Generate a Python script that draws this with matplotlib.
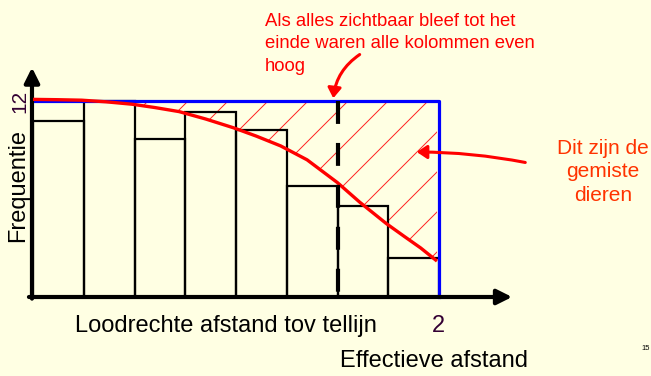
import numpy as np
import matplotlib
matplotlib.use('Agg')
import matplotlib.pyplot as plt
from matplotlib.patches import FancyArrowPatch

plt.rcParams['font.family'] = ['Liberation Sans', 'DejaVu Sans']
plt.rcParams['lines.scale_dashes'] = False

W, H = 651, 376
bg = '#FFFFE3'

# bins of the histogram (perpendicular distance) and observed frequencies
bin_edges = [0.0, 0.25, 0.5, 0.75, 1.0, 1.25, 1.5, 1.75]
bin_width = 0.25
freq = [10.8, 12.0, 9.7, 11.3, 10.2, 6.8, 5.6, 2.4]
max_freq = 12
eff_dist = 1.5
x_max = 2

# detection curve
curve_x = [0.0, 0.12, 0.24, 0.36, 0.49, 0.60, 0.72, 0.85, 0.99, 1.10, 1.22, 1.35,
           1.50, 1.61, 1.74, 1.83, 1.91, 1.99]
curve_y = [12.1, 12.08, 12.05, 11.95, 11.8, 11.6, 11.35, 10.9, 10.35, 9.85, 9.25, 8.4,
           7.0, 5.8, 4.5, 3.7, 3.0, 2.2]

title_lines = 'Als alles zichtbaar bleef tot het\neinde waren alle kolommen even\nhoog'
side_lines = 'Dit zijn de\ngemiste\ndieren'


def fig_xy(px, py):
    return px / W, 1 - py / H


fig = plt.figure(figsize=(W / 100, H / 100), dpi=100, facecolor=bg)
ax = fig.add_axes([33 / W, (H - 297) / H, 406 / W, 196 / H])
ax.set_facecolor('none')
ax.set_xlim(0, x_max)
ax.set_ylim(0, max_freq)
ax.axis('off')

# hatched area between curve and the full height
poly = ax.fill_between(curve_x, curve_y, max_freq, facecolor='none', edgecolor='none')
clip = poly.get_paths()[0]
for c in np.arange(249, 760, 40):
    # 45 degree lines in pixel space: px + py = c
    px = np.array([0, 651])
    py = c - px
    xs = (px - 33) / 203
    ys = (297 - py) * max_freq / 196
    ln, = ax.plot(xs, ys, color='#FF2020', lw=0.7, zorder=1)
    ln.set_clip_path(clip, ax.transData)

ax.bar(bin_edges, freq, width=bin_width, align='edge', facecolor='none',
       edgecolor='black', lw=1.6, zorder=2, clip_on=False)

ax.plot([0, x_max, x_max], [max_freq, max_freq, 0], color='#0000FF', lw=2.3,
        zorder=3, clip_on=False)
ax.plot(curve_x, curve_y, color='#FF0000', lw=2.4, zorder=4, clip_on=False,
        solid_capstyle='butt')
ax.plot([eff_dist, eff_dist], [max_freq, 0], color='black', lw=3,
        dashes=(16.5, 13.7), zorder=5, clip_on=False)

# axes with arrow heads
arr = dict(arrowstyle='-|>,head_length=0.9,head_width=0.45', color='black', lw=3,
           shrinkA=0, shrinkB=0)
ax.annotate('', xy=(-0.005, 14.05), xytext=(-0.005, -0.1), arrowprops=arr,
            annotation_clip=False)
ax.annotate('', xy=(2.36, 0), xytext=(-0.02, 0), arrowprops=arr,
            annotation_clip=False)

# texts
fig.text(*fig_xy(265, 44), title_lines, color='#FF0000', fontsize=13.3,
         ha='left', va='center', linespacing=1.45)
fig.text(*fig_xy(603, 172), side_lines, color='#FF3300', fontsize=15,
         ha='center', va='center', linespacing=1.31)
fig.text(*fig_xy(18, 185), 'Frequentie', rotation=90, fontsize=17,
         ha='center', va='center')
fig.text(*fig_xy(20, 101), '12', rotation=90, fontsize=15, color='#330033',
         ha='center', va='center')
fig.text(*fig_xy(75, 326), 'Loodrechte afstand tov tellijn', fontsize=17,
         ha='left', va='center')
fig.text(*fig_xy(438, 326), '2', fontsize=17, color='#330033',
         ha='center', va='center')
fig.text(*fig_xy(340, 361), 'Effectieve afstand', fontsize=17,
         ha='left', va='center')
fig.text(*fig_xy(641, 349), '15', fontsize=5.5, ha='left', va='center')

# curved arrows
a1 = FancyArrowPatch(fig_xy(362, 53), fig_xy(333, 101), transform=fig.transFigure,
                     connectionstyle='arc3,rad=0.25',
                     arrowstyle='-|>,head_length=6,head_width=4',
                     color='#FF0000', lw=2.2)
fig.patches.append(a1)
a2 = FancyArrowPatch(fig_xy(528, 163), fig_xy(414, 152), transform=fig.transFigure,
                     connectionstyle='arc3,rad=0.05',
                     arrowstyle='-|>,head_length=6,head_width=4',
                     color='#FF0000', lw=2.2)
fig.patches.append(a2)

fig.savefig('out.png', dpi=100, facecolor=bg)
